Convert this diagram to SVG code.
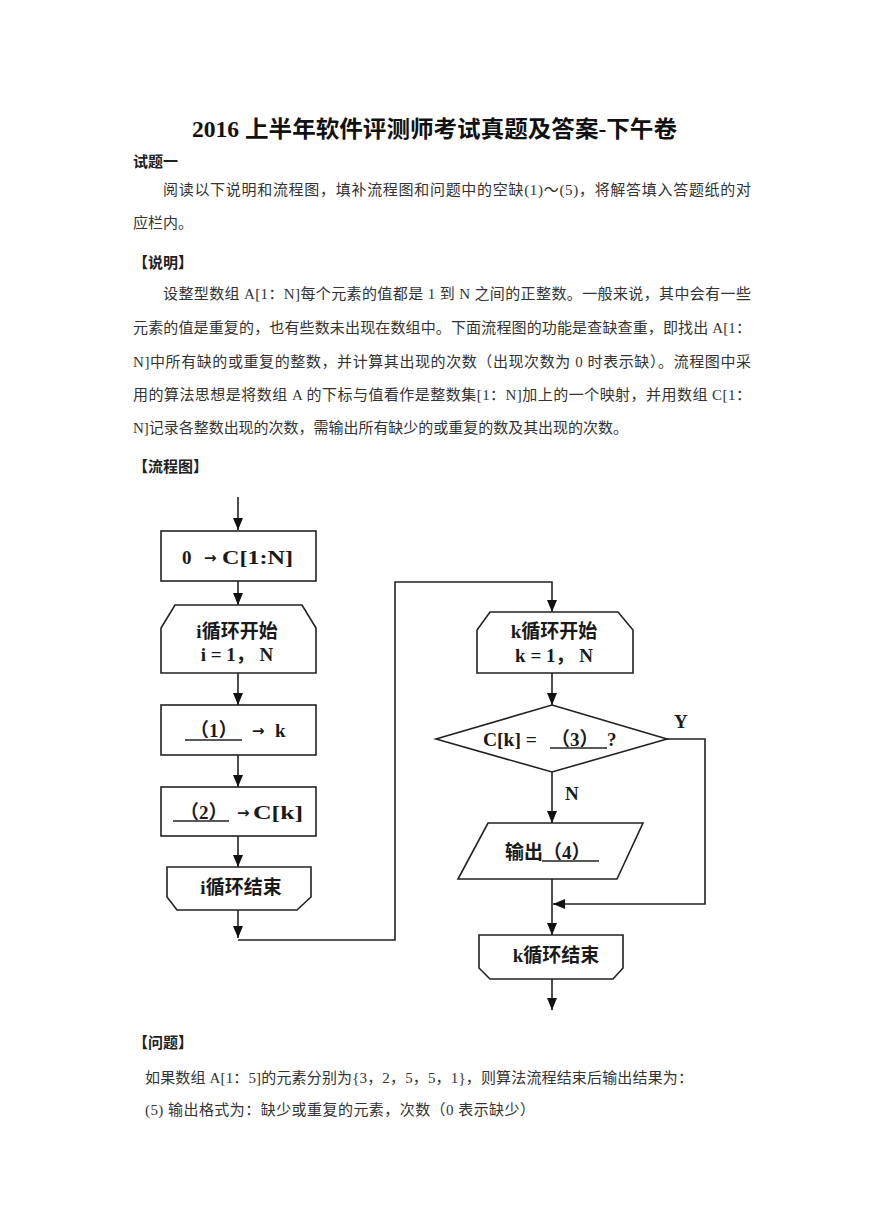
<svg xmlns="http://www.w3.org/2000/svg" width="869" height="1228" viewBox="0 0 869 1228">
<style>
.title{font-family:"Liberation Serif","Noto Sans CJK SC",serif;font-size:23px;font-weight:bold;fill:#111}
.head{font-family:"Liberation Serif","Noto Sans CJK SC",sans-serif;font-size:15px;font-weight:bold;fill:#222}
.body{font-family:"Liberation Serif","Noto Sans CJK SC",serif;font-size:15px;fill:#333}
.fc{font-family:"Liberation Serif","Noto Sans CJK SC",serif;font-size:19px;font-weight:bold;fill:#1a1a1a}
.arr{font-family:"DejaVu Sans",sans-serif;font-size:15px;font-weight:bold;fill:#1a1a1a}
.shape{fill:#fff;stroke:#222;stroke-width:1.6}
.line{fill:none;stroke:#222;stroke-width:1.6}
.ul{stroke:#222;stroke-width:1.4}
</style>
<defs>
<marker id="ah" viewBox="0 0 12 10" refX="12" refY="5" markerWidth="12" markerHeight="10" markerUnits="userSpaceOnUse" orient="auto">
<path d="M0,0 L12,5 L0,10 z" fill="#111"/>
</marker>
</defs>
<rect width="869" height="1228" fill="#fff"/>

<g id="text">
<text class="title" x="192" y="137" textLength="485" lengthAdjust="spacingAndGlyphs">2016 上半年软件评测师考试真题及答案-下午卷</text>
<text class="head" x="133" y="167">试题一</text>
<text class="body" x="163" y="195" textLength="588" lengthAdjust="spacing">阅读以下说明和流程图，填补流程图和问题中的空缺(1)～(5)，将解答填入答题纸的对</text>
<text class="body" x="133" y="228">应栏内。</text>
<text class="head" x="133" y="268">【说明】</text>
<text class="body" x="163" y="299" textLength="588" lengthAdjust="spacing">设整型数组 A[1：N]每个元素的值都是 1 到 N 之间的正整数。一般来说，其中会有一些</text>
<text class="body" x="133" y="333" textLength="618" lengthAdjust="spacing">元素的值是重复的，也有些数未出现在数组中。下面流程图的功能是查缺查重，即找出 A[1：</text>
<text class="body" x="133" y="367" textLength="618" lengthAdjust="spacing">N]中所有缺的或重复的整数，并计算其出现的次数（出现次数为 0 时表示缺）。流程图中采</text>
<text class="body" x="133" y="400" textLength="618" lengthAdjust="spacing">用的算法思想是将数组 A 的下标与值看作是整数集[1：N]加上的一个映射，并用数组 C[1：</text>
<text class="body" x="133" y="433" textLength="495" lengthAdjust="spacing">N]记录各整数出现的次数，需输出所有缺少的或重复的数及其出现的次数。</text>
<text class="head" x="133" y="472">【流程图】</text>
<text class="head" x="133" y="1048">【问题】</text>
<text class="body" x="145" y="1083" textLength="548" lengthAdjust="spacing">如果数组 A[1：5]的元素分别为{3，2，5，5，1}，则算法流程结束后输出结果为：</text>
<text class="body" x="145" y="1115" textLength="390" lengthAdjust="spacing">(5) 输出格式为：缺少或重复的元素，次数（0 表示缺少）</text>
</g>

<g id="connectors">
<path class="line" d="M238,497 V530" marker-end="url(#ah)"/>
<path class="line" d="M238,581 V605" marker-end="url(#ah)"/>
<path class="line" d="M238,673 V705" marker-end="url(#ah)"/>
<path class="line" d="M238,755 V787" marker-end="url(#ah)"/>
<path class="line" d="M238,836 V867" marker-end="url(#ah)"/>
<path class="line" d="M238,910 V938" marker-end="url(#ah)"/>
<path class="line" d="M238,940 H395 V582 H552 V612" marker-end="url(#ah)"/>
<path class="line" d="M552,673 V705" marker-end="url(#ah)"/>
<path class="line" d="M552,772 V823" marker-end="url(#ah)"/>
<path class="line" d="M667,739 H705 V904 H553" marker-end="url(#ah)"/>
<path class="line" d="M552,879 V935" marker-end="url(#ah)"/>
<path class="line" d="M552,979 V1010" marker-end="url(#ah)"/>
<text class="fc" x="674" y="728" font-size="16">Y</text>
<text class="fc" x="565" y="800" font-size="16">N</text>
</g>

<g id="n1">
<rect class="shape" x="161" y="531" width="155" height="50"/>
<text class="fc" x="182" y="564">0</text>
<text class="arr" x="204" y="563">→</text>
<text class="fc" x="222" y="564" textLength="71" lengthAdjust="spacingAndGlyphs">C[1:N]</text>
</g>

<g id="n2">
<path class="shape" d="M175,605 H302 L316,628 V673 H161 V628 Z"/>
<text class="fc" x="237" y="638" text-anchor="middle">i循环开始</text>
<text class="fc" x="237" y="661" text-anchor="middle">i = 1，  N</text>
</g>

<g id="n3">
<rect class="shape" x="161" y="705" width="155" height="50"/>
<text class="fc" x="190" y="737">（1）</text>
<line class="ul" x1="185" y1="740" x2="242" y2="740"/>
<text class="arr" x="252" y="736">→</text>
<text class="fc" x="275" y="737">k</text>
</g>

<g id="n4">
<rect class="shape" x="161" y="787" width="155" height="49"/>
<text class="fc" x="180" y="819">（2）</text>
<line class="ul" x1="173" y1="821" x2="229" y2="821"/>
<text class="arr" x="237" y="818">→</text>
<text class="fc" x="253" y="819" textLength="50" lengthAdjust="spacingAndGlyphs">C[k]</text>
</g>

<g id="n5">
<path class="shape" d="M167,867 H311 V897 L297,910 H177 L167,897 Z"/>
<text class="fc" x="241" y="894" text-anchor="middle">i循环结束</text>
</g>

<g id="n6">
<path class="shape" d="M490,612 H618 L633,630 V673 H477 V630 Z"/>
<text class="fc" x="554" y="638" text-anchor="middle">k循环开始</text>
<text class="fc" x="554" y="662" text-anchor="middle">k = 1，  N</text>
</g>

<g id="n7">
<path class="shape" d="M552,705 L667,739 L552,772 L436,739 Z"/>
<text class="fc" x="483" y="746" textLength="54" lengthAdjust="spacingAndGlyphs">C[k] =</text>
<text class="fc" x="551" y="746">（3）</text>
<line class="ul" x1="550" y1="748" x2="607" y2="748"/>
<text class="fc" x="607" y="746">?</text>
</g>

<g id="n8">
<path class="shape" d="M488,823 H643 L617,879 H458 Z"/>
<text class="fc" x="505" y="859">输出</text>
<text class="fc" x="543" y="859">（4）</text>
<line class="ul" x1="542" y1="861" x2="599" y2="861"/>
</g>

<g id="n9">
<path class="shape" d="M479,935 H623 V968 L613,979 H490 L479,968 Z"/>
<text class="fc" x="556" y="962" text-anchor="middle">k循环结束</text>
</g>
</svg>
